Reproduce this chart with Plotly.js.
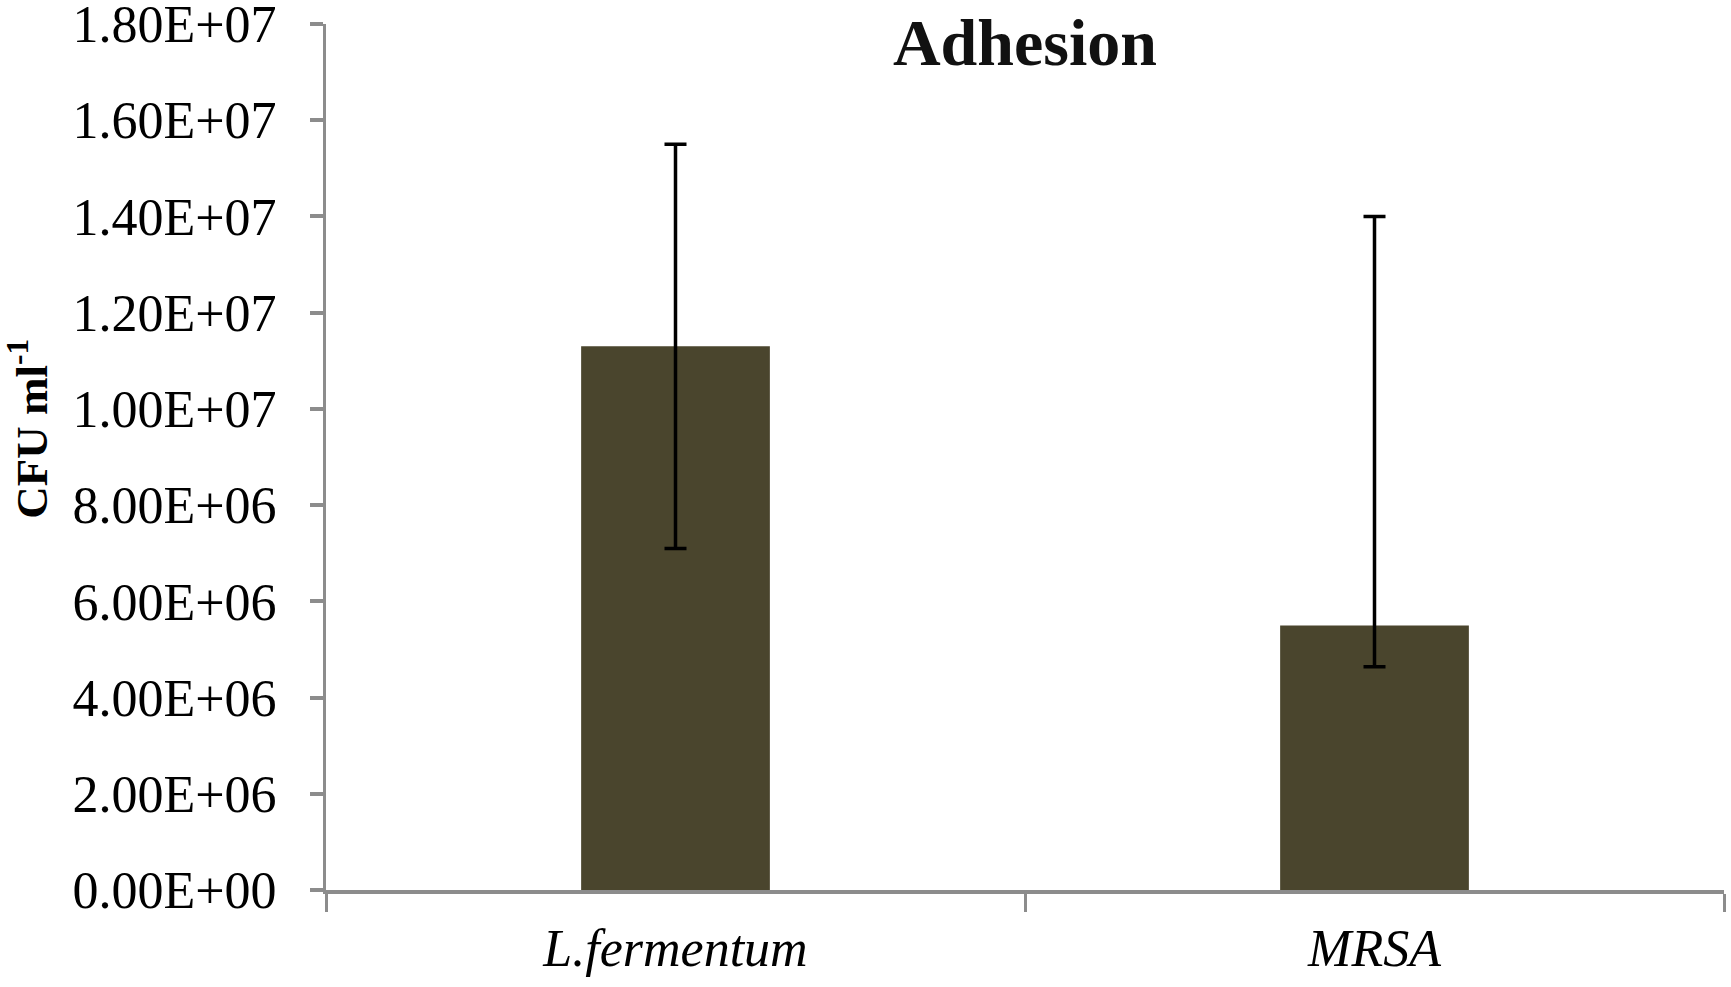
<!DOCTYPE html>
<html>
<head>
<meta charset="utf-8">
<script src="https://cdn.plot.ly/plotly-3.0.1.min.js"></script>
<style>
  html, body { margin: 0; padding: 0; background: #fff; }
  #plot { width: 1731px; height: 987px; }
</style>
</head>
<body>
<div id="plot"></div>
<script>
// values
var strains = ['L.fermentum', 'MRSA'];
var cfu = [1.13e7, 5.5e6];
var err_plus = [4.2e6, 8.5e6];
var err_minus = [4.2e6, 0.86e6];
var y_ticks = [0, 2e6, 4e6, 6e6, 8e6, 1e7, 1.2e7, 1.4e7, 1.6e7, 1.8e7];
var y_labels = ['0.00E+00', '2.00E+06', '4.00E+06', '6.00E+06', '8.00E+06',
                '1.00E+07', '1.20E+07', '1.40E+07', '1.60E+07', '1.80E+07'];

var serif = 'Liberation Serif, Times New Roman, serif';
var axis_grey = '#8c8c8c';

var bar_trace = {
   type: 'bar',
   x: strains,
   y: cfu,
   marker: {color: '#4a452d', line: {width: 0}},
   error_y: {
      type: 'data',
      symmetric: false,
      array: err_plus,
      arrayminus: err_minus,
      color: '#000000',
      thickness: 3.5,
      width: 11
   },
   hoverinfo: 'x+y'
};

var layout = {
   width: 1731,
   height: 987,
   margin: {l: 326, r: 7, t: 24, b: 97},
   paper_bgcolor: '#ffffff',
   plot_bgcolor: '#ffffff',
   showlegend: false,
   bargap: 0.73,
   title: {
      text: 'Adhesion',
      font: {family: serif, size: 66, color: '#111111', weight: 'bold'},
      x: 0.5,
      xref: 'paper',
      xanchor: 'center',
      y: 0.958,
      yref: 'container',
      yanchor: 'middle'
   },
   xaxis: {
      type: 'category',
      tickson: 'boundaries',
      ticks: 'outside',
      ticklen: 18,
      tickwidth: 3,
      tickcolor: axis_grey,
      showline: true,
      linecolor: axis_grey,
      linewidth: 4,
      showgrid: false,
      zeroline: false,
      tickfont: {family: serif, size: 52, color: '#000000', style: 'italic'},
      ticklabelstandoff: 10
   },
   yaxis: {
      range: [0, 1.8e7],
      tickmode: 'array',
      tickvals: y_ticks,
      ticktext: y_labels,
      ticks: 'outside',
      ticklen: 13,
      tickwidth: 4,
      tickcolor: axis_grey,
      showline: true,
      linecolor: axis_grey,
      linewidth: 3,
      showgrid: false,
      zeroline: false,
      tickfont: {family: serif, size: 52, color: '#000000'},
      ticklabelstandoff: 23,
      ticklabeloverflow: 'allow'
   },
   annotations: [{
      // y-axis title, placed as in the original (a little above the plot middle)
      text: 'CFU ml<sup>-1</sup>',
      font: {family: serif, size: 45, color: '#000000', weight: 'bold'},
      textangle: -90,
      xref: 'paper',
      yref: 'paper',
      x: -0.213,
      y: 0.533,
      xanchor: 'center',
      yanchor: 'middle',
      showarrow: false
   }]
};

Plotly.newPlot('plot', [bar_trace], layout, {displayModeBar: false, staticPlot: true});
</script>
</body>
</html>
